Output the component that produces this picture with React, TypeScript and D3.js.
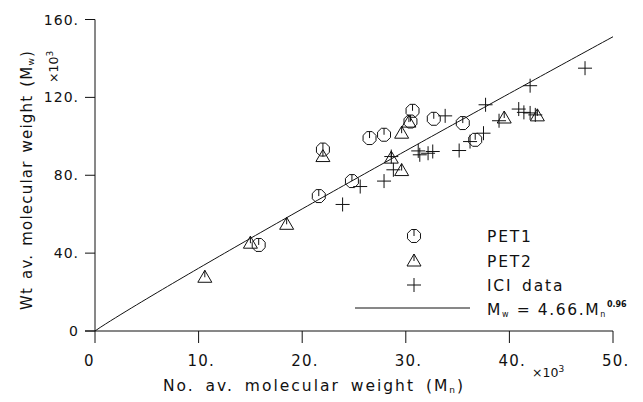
import React from "react";
import * as d3 from "d3";

// ---- data (values in thousands) ----
const pet1Mn = [15.8, 21.6, 22.0, 24.8, 26.5, 27.9, 30.45, 30.65, 32.7, 35.5, 36.7];
const pet1Mw = [44.2, 69.3, 93.2, 77.0, 99.1, 100.8, 107.6, 113.1, 109.0, 106.8, 98.2];

const pet2Mn = [10.6, 15.0, 18.5, 22.0, 28.6, 29.6, 29.6, 30.3, 39.5, 42.7];
const pet2Mw = [27.6, 45.1, 54.8, 89.6, 88.8, 82.4, 101.6, 107.3, 109.4, 110.5];

const iciMn = [23.9, 25.6, 27.9, 28.6, 28.8, 31.2, 31.35, 32.15, 32.6, 33.8, 35.15, 36.2, 37.5, 37.7, 39.0, 40.9, 41.4, 42.0, 42.5, 42.0, 47.3];
const iciMw = [65.0, 74.2, 77.0, 89.6, 82.8, 92.5, 90.5, 91.3, 92.2, 110.5, 92.7, 97.3, 101.6, 116.2, 108.0, 114.0, 112.3, 112.0, 111.0, 126.0, 135.0];

// fit: Mw = 4.66 * Mn^0.96 (absolute units)
const FIT_A = 4.66;
const FIT_B = 0.96;

const xTicks = [0, 10, 20, 30, 40, 50];
const xTickLabels = ["0", "10.", "20.", "30.", "40.", "50."];
const yTicks = [0, 40, 80, 120, 160];
const yTickLabels = ["0", "40.", "80.", "120.", "160."];

const legendLabels = ["PET1", "PET2", "ICI data"];

const FONT = "DejaVu Sans";
const INK = "#111";

const octagon = (() => {
  const r = 7;
  const pts = d3.range(8).map((i) => {
    const a = ((i * 45 + 22.5) * Math.PI) / 180;
    return [r * Math.cos(a), r * Math.sin(a)];
  });
  return "M" + pts.map((p) => p[0].toFixed(2) + "," + p[1].toFixed(2)).join("L") + "Z" + `M0,${(-r * Math.cos(Math.PI / 8)).toFixed(2)}L0,0`;
})();
const triangle = "M-7,5L0,-7L7,5Z M0,-7L0,0";
const cross = "M-7,0H7M0,-7V7";

export default function App() {
  const x = d3.scaleLinear().domain([0, 50]).range([95, 613]);
  const y = d3.scaleLinear().domain([0, 160]).range([331, 19.5]);

  const fitX = d3.range(0, 50.001, 0.5);
  const line = d3
    .line<number>()
    .x((d) => x(d))
    .y((d) => y((FIT_A * Math.pow(d * 1000, FIT_B)) / 1000));

  const markerProps = { fill: "none", stroke: INK, strokeWidth: 1 };

  return (
    <svg
      width={643}
      height={402}
      style={{ position: "absolute", left: 0, top: 0, background: "#fff" }}
      fontFamily={FONT}
    >
      {/* axes */}
      <line x1={x(0)} x2={x(0)} y1={y(160)} y2={y(0)} stroke={INK} />
      <line x1={x(0) - 10} x2={x(50)} y1={y(0)} y2={y(0)} stroke={INK} />
      {yTicks.map((t, i) => (
        <g key={"yt" + i}>
          <line x1={x(0) - 10} x2={x(0)} y1={y(t)} y2={y(t)} stroke={INK} />
          <text x={79} y={y(t) + 5} textAnchor="end" fontSize={14} fill={INK} letterSpacing={1}>
            {yTickLabels[i]}
          </text>
        </g>
      ))}
      {xTicks.map((t, i) => (
        <g key={"xt" + i}>
          <line x1={x(t)} x2={x(t)} y1={y(0)} y2={y(0) + 12} stroke={INK} />
          <text x={x(t) - 11} y={366} fontSize={15} fill={INK} letterSpacing={1.2}>
            {xTickLabels[i]}
          </text>
        </g>
      ))}
      {/* x10^3 labels */}
      <text x={532} y={377} fontSize={12.5} fill={INK}>
        ×10<tspan dy={-5} fontSize={9}>3</tspan>
      </text>
      <text transform="translate(58,83) rotate(-90)" fontSize={12.5} fill={INK}>
        ×10<tspan dy={-5} fontSize={9}>3</tspan>
      </text>

      {/* axis titles */}
      <text x={314} y={391} textAnchor="middle" fontSize={15.5} fill={INK} letterSpacing={2} wordSpacing={4}>
        No. av. molecular weight (M<tspan fontSize={9} dy={2}>n</tspan>
        <tspan dy={-2}>)</tspan>
      </text>
      <text transform="translate(32,180) rotate(-90)" textAnchor="middle" fontSize={15} fill={INK} letterSpacing={1.2} wordSpacing={2}>
        Wt av. molecular weight (M<tspan fontSize={9} dy={2}>w</tspan>
        <tspan dy={-2}>)</tspan>
      </text>

      {/* fit line */}
      <path d={line(fitX) || ""} fill="none" stroke={INK} strokeWidth={1} />

      {/* data */}
      {pet1Mn.map((v, i) => (
        <path key={"p1" + i} d={octagon} transform={`translate(${x(v)},${y(pet1Mw[i])})`} {...markerProps} />
      ))}
      {pet2Mn.map((v, i) => (
        <path key={"p2" + i} d={triangle} transform={`translate(${x(v)},${y(pet2Mw[i])})`} {...markerProps} />
      ))}
      {iciMn.map((v, i) => (
        <path key={"ic" + i} d={cross} transform={`translate(${x(v)},${y(iciMw[i])})`} {...markerProps} />
      ))}

      {/* legend */}
      <g>
        <path d={octagon} transform="translate(414,236)" {...markerProps} />
        <path d={triangle} transform="translate(414,261)" {...markerProps} />
        <path d={cross} transform="translate(414,285)" {...markerProps} />
        <line x1={355} x2={470} y1={308} y2={308} stroke={INK} />
        {legendLabels.map((l, i) => (
          <text key={l} x={487} y={242 + i * 24.5} fontSize={15.5} fill={INK} letterSpacing={1.8} wordSpacing={3}>
            {l}
          </text>
        ))}
        <text x={487} y={315} fontSize={15.5} fill={INK} letterSpacing={1.6}>
          M<tspan fontSize={8} dy={2}>w</tspan>
          <tspan dy={-2}> =  4.66.M</tspan>
          <tspan fontSize={8} dy={2}>n</tspan>
          <tspan fontSize={8} dy={-10} fontWeight="bold" letterSpacing={0}>0.96</tspan>
        </text>
      </g>
    </svg>
  );
}
